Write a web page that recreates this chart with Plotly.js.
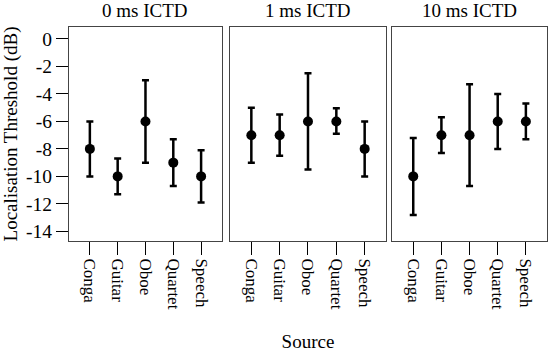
<!DOCTYPE html>
<html>
<head>
<meta charset="utf-8">
<script src="https://cdn.plot.ly/plotly-3.0.1.min.js"></script>
<style>html,body{margin:0;padding:0;background:#fff;}#chart{width:550px;height:353px;}</style>
</head>
<body>
<div id="chart"></div>
<script>
var sources = ["Conga", "Guitar", "Oboe", "Quartet", "Speech"];
var panelTitles = ["0 ms ICTD", "1 ms ICTD", "10 ms ICTD"];

var mean0 = [-8, -10, -6, -9, -10];
var upper0 = [-6, -8.7, -3, -7.3, -8.1];
var lower0 = [-10, -11.3, -9, -10.7, -11.9];

var mean1 = [-7, -7, -6, -6, -8];
var upper1 = [-5, -5.5, -2.5, -5.05, -6];
var lower1 = [-9, -8.5, -9.5, -6.9, -10];

var mean10 = [-10, -7, -7, -6, -6];
var upper10 = [-7.2, -5.7, -3.3, -4, -4.7];
var lower10 = [-12.8, -8.3, -10.7, -8, -7.3];

var yTickVals = [0, -2, -4, -6, -8, -10, -12, -14];
var yTickText = ["0", "-2", "-4", "-6", "-8", "-10", "-12", "-14"];

var means = [mean0, mean1, mean10];
var uppers = [upper0, upper1, upper10];
var lowers = [lower0, lower1, lower10];

var FONT = "Liberation Serif, Times New Roman, serif";
var traces = [];
for (var p = 0; p < 3; p++) {
  var m = means[p];
  traces.push({
    type: "scatter",
    mode: "markers",
    x: sources,
    y: m,
    xaxis: p === 0 ? "x" : "x" + (p + 1),
    yaxis: p === 0 ? "y" : "y" + (p + 1),
    marker: {color: "#000", size: 10},
    error_y: {
      type: "data",
      symmetric: false,
      array: uppers[p].map(function (u, i) { return u - m[i]; }),
      arrayminus: m.map(function (v, i) { return v - lowers[p][i]; }),
      color: "#000",
      thickness: 2.5,
      width: 3.5
    },
    showlegend: false,
    hoverinfo: "x+y"
  });
}

var domains = [[0, 0.320], [0.337, 0.663], [0.676, 1]];
var layout = {
  width: 550,
  height: 353,
  margin: {l: 69, r: 3, t: 27, b: 112},
  paper_bgcolor: "#fff",
  plot_bgcolor: "#fff",
  font: {family: FONT, color: "#000", size: 18},
  annotations: [],
  showlegend: false
};
for (var p = 0; p < 3; p++) {
  var sfx = p === 0 ? "" : String(p + 1);
  layout["xaxis" + sfx] = {
    domain: domains[p],
    anchor: "y" + sfx,
    type: "category",
    categoryorder: "array",
    categoryarray: sources,
    range: [-0.75, 4.75],
    showgrid: false,
    zeroline: false,
    showline: true,
    mirror: true,
    linecolor: "#444",
    linewidth: 1,
    ticks: "outside",
    ticklen: 13,
    tickcolor: "#000",
    tickwidth: 1,
    tickangle: 90,
    tickfont: {family: FONT, size: 17, color: "#000"},
    fixedrange: true
  };
  layout["yaxis" + sfx] = {
    domain: [0, 1],
    anchor: "x" + sfx,
    range: [-14.7, 0.87],
    showgrid: false,
    zeroline: false,
    showline: true,
    mirror: true,
    linecolor: "#444",
    linewidth: 1,
    showticklabels: p === 0,
    ticks: p === 0 ? "outside" : "",
    ticklen: 12,
    tickcolor: "#000",
    tickwidth: 1,
    tickvals: yTickVals,
    ticktext: yTickText,
    tickfont: {family: FONT, size: 19.5, color: "#000"},
    fixedrange: true
  };
  layout.annotations.push({
    text: panelTitles[p],
    xref: "paper", yref: "paper",
    x: (domains[p][0] + domains[p][1]) / 2,
    y: 1, yshift: 17,
    xanchor: "center", yanchor: "middle",
    showarrow: false,
    font: {family: FONT, size: 19, color: "#000"}
  });
}
layout.yaxis.title = {text: "Localisation Threshold (dB)", font: {family: FONT, size: 19, color: "#000"}, standoff: 3};
layout.xaxis2.title = {text: "Source", font: {family: FONT, size: 19, color: "#000"}, standoff: 26};

Plotly.newPlot("chart", traces, layout, {displayModeBar: false, staticPlot: true});
</script>
</body>
</html>
